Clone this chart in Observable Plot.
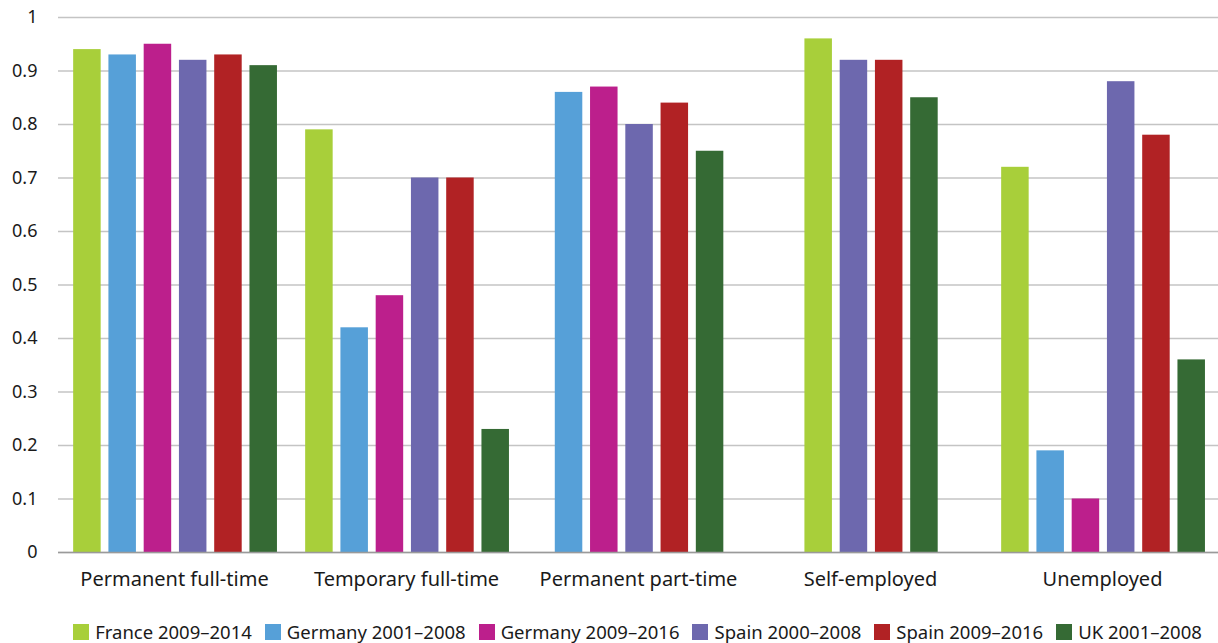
<!DOCTYPE html>
<html>
<head>
<meta charset="utf-8">
<script src="https://cdn.jsdelivr.net/npm/d3@7"></script>
<script src="https://cdn.jsdelivr.net/npm/@observablehq/plot@0.6"></script>
<style>
  html, body { margin: 0; padding: 0; background: #fff; }
  #chart { width: 1218px; font-family: "Noto Sans", sans-serif; color: #1a1a1a; }
  .legend { display: flex; justify-content: center; align-items: center; padding-left: 57px;
            font-size: 18.5px; height: 43px; gap: 13px; margin-top: 10px; }
  .legend .item { display: flex; align-items: center; gap: 6px; white-space: nowrap; }
  .legend .sw { width: 16px; height: 16px; display: inline-block; }
</style>
</head>
<body>
<div id="chart"></div>
<script>
// Employment status categories along the x axis
const categories = ["Permanent full-time", "Temporary full-time", "Permanent part-time", "Self-employed", "Unemployed"];

// Country / period series
const series = ["France 2009–2014", "Germany 2001–2008", "Germany 2009–2016", "Spain 2000–2008", "Spain 2009–2016", "UK 2001–2008"];
const seriesColors = ["#a8cf3a", "#56a0d8", "#bc1f8c", "#6d68ae", "#b12224", "#356a34"];

// Values per category (null = no estimate)
const france2009_2014 = [0.94, 0.79, null, 0.96, 0.72];
const germany2001_2008 = [0.93, 0.42, 0.86, null, 0.19];
const germany2009_2016 = [0.95, 0.48, 0.87, null, 0.10];
const spain2000_2008 = [0.92, 0.70, 0.80, 0.92, 0.88];
const spain2009_2016 = [0.93, 0.70, 0.84, 0.92, 0.78];
const uk2001_2008 = [0.91, 0.23, 0.75, 0.85, 0.36];

// Y axis ticks
const yTicks = [0, 0.1, 0.2, 0.3, 0.4, 0.5, 0.6, 0.7, 0.8, 0.9, 1];

const seriesValues = [france2009_2014, germany2001_2008, germany2009_2016, spain2000_2008, spain2009_2016, uk2001_2008];

// One row per drawn bar; the bars present in a category are packed and centred in its band
const rows = [];
categories.forEach((cat, ci) => {
  const present = series.map((s, si) => ({s, v: seriesValues[si][ci]})).filter(d => d.v != null);
  const offset = (series.length - present.length) / 2;
  present.forEach((d, k) => rows.push({category: cat, series: d.s, value: d.v, slot: k + offset}));
});

const barWidth = 0.78;

const plot = Plot.plot({
  width: 1218,
  height: 600,
  marginTop: 17,
  marginBottom: 48,
  marginLeft: 57,
  marginRight: 0,
  style: {fontFamily: "'Noto Sans', sans-serif", fontSize: "18px", color: "#1a1a1a", background: "#fff"},
  fx: {domain: categories, paddingInner: 0, paddingOuter: 0, label: null, axis: null},
  x: {domain: [-0.43, 6.15], axis: null},
  y: {domain: [0, 1], ticks: yTicks, tickSize: 0, tickPadding: 21, label: null,
      tickFormat: d => String(+d.toFixed(1))},
  color: {domain: series, range: seriesColors},
  marks: [
    Plot.gridY(yTicks, {stroke: "#c4c4c4", strokeOpacity: 1, strokeWidth: 1.5}),
    Plot.rectY(rows, {fx: "category", x1: "slot", x2: d => d.slot + barWidth, y: "value", fill: "series"}),
    Plot.ruleY([0], {stroke: "#9a9a9a", strokeWidth: 1.5}),
    Plot.axisFx({anchor: "bottom", tickSize: 0, tickPadding: 19, label: null, fontSize: 20})
  ]
});

const chart = document.getElementById("chart");
chart.appendChild(plot);

// Legend row below the plot
const legend = document.createElement("div");
legend.className = "legend";
series.forEach((s, i) => {
  const item = document.createElement("span");
  item.className = "item";
  const sw = document.createElement("span");
  sw.className = "sw";
  sw.style.background = seriesColors[i];
  const label = document.createElement("span");
  label.textContent = s;
  item.appendChild(sw);
  item.appendChild(label);
  legend.appendChild(item);
});
chart.appendChild(legend);
</script>
</body>
</html>
